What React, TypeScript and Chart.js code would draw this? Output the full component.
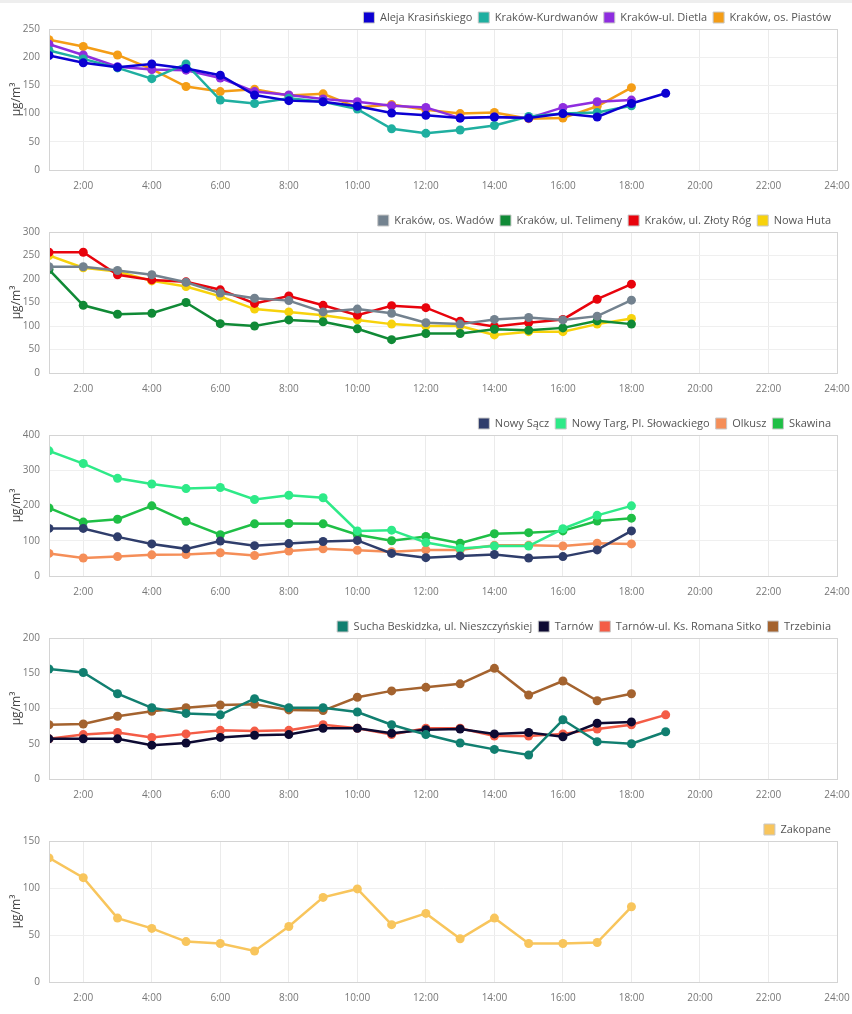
import React, { useEffect, useRef } from "react";
import { Chart, registerables } from "chart.js";

Chart.register(...registerables);

const HOURS = [1, 2, 3, 4, 5, 6, 7, 8, 9, 10, 11, 12, 13, 14, 15, 16, 17, 18, 19];
const X_TICKS = [2, 4, 6, 8, 10, 12, 14, 16, 18, 20, 22, 24];
const Y_UNIT = "µg/m³";

// Panel 1
const alejaKrasinskiego = [203, 190, 182, 188, 180, 168, 133, 123, 121, 113, 101, 97, 92, 94, 92, 100, 94, 118, 136];
const krakowKurdwanow = [212, 197, 181, 162, 188, 124, 118, 127, 121, 108, 73, 65, 71, 79, 95, 100, 102, 114];
const krakowDietla = [223, 204, 183, 178, 177, 163, 139, 133, 126, 121, 114, 111, 92, 94, 92, 111, 121, 124];
const krakowPiastow = [231, 219, 204, 179, 148, 139, 143, 132, 135, 111, 116, 107, 100, 102, 91, 92, 113, 146];

// Panel 2
const krakowWadow = [226, 226, 218, 209, 193, 170, 159, 154, 130, 136, 127, 107, 104, 114, 118, 113, 121, 155];
const krakowTelimeny = [220, 144, 125, 127, 150, 105, 100, 113, 109, 94, 71, 84, 84, 93, 91, 96, 111, 104];
const krakowZlotyRog = [257, 257, 209, 198, 194, 177, 148, 164, 144, 123, 143, 139, 110, 99, 107, 114, 157, 189];
const nowaHuta = [250, 224, 216, 196, 184, 163, 136, 130, 123, 113, 104, 100, 100, 81, 88, 88, 104, 116];

// Panel 3
const nowySacz = [135, 135, 111, 91, 77, 99, 86, 92, 98, 101, 64, 52, 57, 61, 51, 55, 74, 128];
const nowyTarg = [355, 319, 277, 261, 248, 251, 217, 229, 222, 128, 130, 95, 78, 85, 85, 134, 172, 199];
const olkusz = [64, 51, 55, 60, 61, 66, 58, 71, 77, 73, 69, 74, 74, 87, 87, 85, 93, 91];
const skawina = [193, 153, 161, 199, 155, 117, 148, 149, 148, 117, 100, 112, 93, 120, 123, 128, 156, 164];

// Panel 4
const suchaBeskidzka = [156, 151, 121, 101, 93, 91, 114, 101, 101, 95, 77, 63, 51, 42, 34, 84, 53, 50, 67];
const tarnow = [57, 57, 57, 48, 51, 59, 62, 63, 72, 72, 65, 70, 71, 64, 66, 60, 79, 81];
const tarnowSitko = [57, 63, 66, 59, 64, 69, 68, 69, 77, 72, 63, 72, 72, 61, 61, 64, 71, 77, 91];
const trzebinia = [77, 78, 89, 96, 101, 105, 106, 98, 97, 116, 125, 130, 135, 157, 119, 139, 111, 121];

// Panel 5
const zakopane = [132, 111, 68, 57, 43, 41, 33, 59, 90, 99, 61, 73, 46, 68, 41, 41, 42, 80];

type Series = { label: string; color: string; values: number[] };
type Panel = { yMax: number; yStep: number; series: Series[] };

const PANELS: Panel[] = [
  {
    yMax: 250,
    yStep: 50,
    series: [
      { label: "Aleja Krasińskiego", color: "#0c00d2", values: alejaKrasinskiego },
      { label: "Kraków-Kurdwanów", color: "#1fafa0", values: krakowKurdwanow },
      { label: "Kraków-ul. Dietla", color: "#8e2ddf", values: krakowDietla },
      { label: "Kraków, os. Piastów", color: "#f49d16", values: krakowPiastow },
    ],
  },
  {
    yMax: 300,
    yStep: 50,
    series: [
      { label: "Kraków, os. Wadów", color: "#73828f", values: krakowWadow },
      { label: "Kraków, ul. Telimeny", color: "#108a36", values: krakowTelimeny },
      { label: "Kraków, ul. Złoty Róg", color: "#e8030c", values: krakowZlotyRog },
      { label: "Nowa Huta", color: "#f7d20c", values: nowaHuta },
    ],
  },
  {
    yMax: 400,
    yStep: 100,
    series: [
      { label: "Nowy Sącz", color: "#2f3d6b", values: nowySacz },
      { label: "Nowy Targ, Pl. Słowackiego", color: "#2eea88", values: nowyTarg },
      { label: "Olkusz", color: "#f58e58", values: olkusz },
      { label: "Skawina", color: "#1fbf46", values: skawina },
    ],
  },
  {
    yMax: 200,
    yStep: 50,
    series: [
      { label: "Sucha Beskidzka, ul. Nieszczyńskiej", color: "#117f70", values: suchaBeskidzka },
      { label: "Tarnów", color: "#0d0a32", values: tarnow },
      { label: "Tarnów-ul. Ks. Romana Sitko", color: "#f45c46", values: tarnowSitko },
      { label: "Trzebinia", color: "#a4632f", values: trzebinia },
    ],
  },
  {
    yMax: 150,
    yStep: 50,
    series: [{ label: "Zakopane", color: "#f8c55c", values: zakopane }],
  },
];

const FONT = "'Open Sans', 'Noto Sans', sans-serif";

const borderPlugin = {
  id: "plotBorder",
  afterDraw(chart: any) {
    const { ctx, chartArea } = chart;
    ctx.save();
    ctx.strokeStyle = "#d4d4d4";
    ctx.lineWidth = 1;
    ctx.strokeRect(
      Math.round(chartArea.left) + 0.5,
      Math.round(chartArea.top) + 0.5,
      Math.round(chartArea.right - chartArea.left),
      Math.round(chartArea.bottom - chartArea.top)
    );
    ctx.restore();
  },
};

function PanelChart({ panel }: { panel: Panel }) {
  const ref = useRef<HTMLCanvasElement | null>(null);
  useEffect(() => {
    if (!ref.current) return;
    const chart = new Chart(ref.current, {
      type: "line",
      data: {
        datasets: panel.series.map((s) => ({
          label: s.label,
          data: s.values.map((v, i) => ({ x: HOURS[i], y: v })),
          borderColor: s.color,
          backgroundColor: s.color,
          borderWidth: 2.5,
          pointRadius: 4.5,
          pointBorderWidth: 0,
          pointBackgroundColor: s.color,
          tension: 0,
          fill: false,
        })),
      },
      options: {
        animation: false,
        responsive: false,
        devicePixelRatio: 1,
        layout: { padding: { top: 6, right: 15, left: 0, bottom: 0 } },
        plugins: {
          tooltip: { enabled: false },
          legend: {
            position: "top",
            align: "end",
            maxHeight: 23,
            labels: {
              font: { family: FONT, size: 11 },
              color: "#555",
              boxWidth: 11,
              boxHeight: 11,
              padding: 6,
              generateLabels: (c: any) => {
                const items = Chart.defaults.plugins.legend.labels.generateLabels(c);
                return items.map((it: any) => ({ ...it, strokeStyle: "#c8c8c8", lineWidth: 1 }));
              },
            },
          },
        },
        scales: {
          x: {
            type: "linear",
            min: 1,
            max: 24,
            afterBuildTicks: (s: any) => {
              s.ticks = X_TICKS.map((v) => ({ value: v }));
            },
            afterFit: (s: any) => {
              s.height = 33;
              s.paddingLeft = 0;
              s.paddingRight = 0;
            },
            ticks: {
              font: { family: FONT, size: 10 },
              color: "#777",
              padding: 10,
              maxRotation: 0,
              autoSkip: false,
              callback: (v: any) => `${v}:00`,
            },
            grid: { color: "#ebebeb", drawTicks: false },
            border: { color: "#d4d4d4" },
          },
          y: {
            min: 0,
            max: panel.yMax,
            afterFit: (s: any) => {
              s.width = 49;
              s.paddingTop = 0;
              s.paddingBottom = 0;
            },
            ticks: {
              stepSize: panel.yStep,
              font: { family: FONT, size: 10 },
              color: "#777",
              padding: 9,
            },
            grid: { color: "#efefef", drawTicks: false },
            border: { color: "#d4d4d4" },
            title: {
              display: true,
              text: Y_UNIT,
              font: { family: FONT, size: 12 },
              color: "#444",
              padding: { top: 9, bottom: 0 },
            },
          },
        },
      },
      plugins: [borderPlugin],
    } as any);
    return () => chart.destroy();
  }, [panel]);
  return <canvas ref={ref} width={852} height={203} style={{ display: "block", width: 852, height: 203 }} />;
}

export default function App() {
  return (
    <div style={{ position: "absolute", left: 0, top: 0, width: 852, background: "#fff" }}>
      <div style={{ position: "absolute", left: 0, top: 0, width: 852, height: 3, background: "#eeeeee" }} />
      {PANELS.map((p, i) => (
        <PanelChart key={i} panel={p} />
      ))}
    </div>
  );
}
